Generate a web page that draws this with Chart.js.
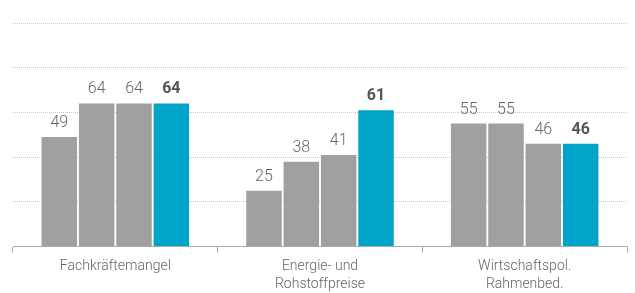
<!DOCTYPE html>
<html>
<head>
<meta charset="utf-8">
<script src="https://cdn.jsdelivr.net/npm/chart.js@4"></script>
<style>
  html, body { margin: 0; padding: 0; background: #fff; }
  #wrap { width: 635px; height: 293px; }
</style>
</head>
<body>
<div id="wrap"><canvas id="chart"></canvas></div>
<script>
// Data
const categories = [["Fachkräftemangel"], ["Energie- und", "Rohstoffpreise"], ["Wirtschaftspol.", "Rahmenbed."]];
const series1 = [49, 25, 55];
const series2 = [64, 38, 55];
const series3 = [64, 41, 46];
const series4 = [64, 61, 46];

const GRAY = "#a0a0a0";
const BLUE = "#00a4c8";

// value labels above the bars
const valueLabels = {
  id: "valueLabels",
  afterDatasetsDraw(chart) {
    const ctx = chart.ctx;
    ctx.save();
    ctx.textAlign = "center";
    ctx.textBaseline = "bottom";
    chart.data.datasets.forEach((ds, i) => {
      const last = i === chart.data.datasets.length - 1;
      ctx.font = (last ? "bold " : "300 ") + "16px Roboto";
      ctx.fillStyle = last ? "#555" : "#666";
      chart.getDatasetMeta(i).data.forEach((bar, j) => {
        ctx.fillText(ds.data[j], bar.x, bar.y - 6);
      });
    });
    ctx.restore();
  }
};

const common = { barPercentage: 0.95, categoryPercentage: 0.73 };

new Chart(document.getElementById("chart"), {
  type: "bar",
  data: {
    labels: categories,
    datasets: [
      { data: series1, backgroundColor: GRAY, ...common },
      { data: series2, backgroundColor: GRAY, ...common },
      { data: series3, backgroundColor: GRAY, ...common },
      { data: series4, backgroundColor: BLUE, ...common }
    ]
  },
  options: {
    responsive: true,
    maintainAspectRatio: false,
    animation: false,
    layout: { padding: { left: 13, right: 8, top: 23, bottom: -6 } },
    plugins: { legend: { display: false }, tooltip: { enabled: false } },
    scales: {
      x: {
        grid: { drawOnChartArea: false, offset: true, tickLength: 6, color: "#aaa" },
        border: { color: "#aaa" },
        ticks: { color: "#666", font: { family: "Roboto", size: 14, weight: 300, lineHeight: 1.3 }, padding: 5 }
      },
      y: {
        min: 0,
        max: 100,
        ticks: { display: false, stepSize: 20 },
        grid: { color: "#c8c8c8", drawTicks: false },
        border: { display: false, dash: [1, 1] }
      }
    }
  },
  plugins: [valueLabels]
});
</script>
</body>
</html>
